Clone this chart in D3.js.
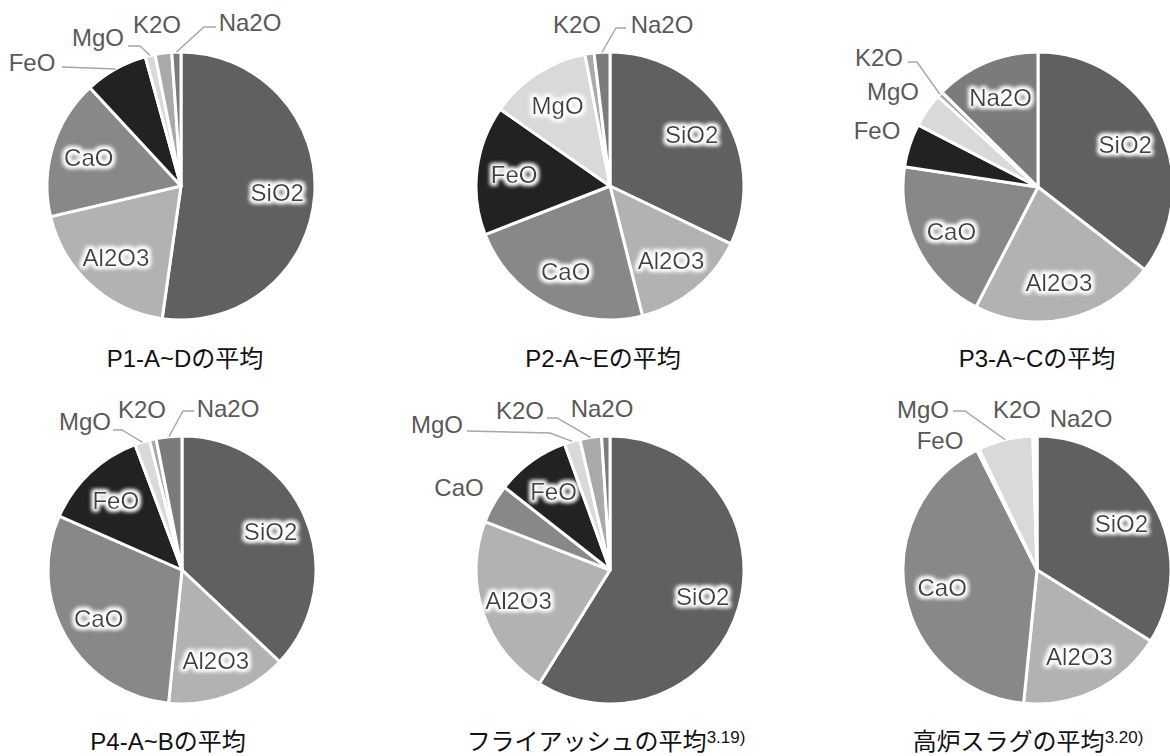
<!DOCTYPE html>
<html lang="ja">
<head>
<meta charset="utf-8">
<script src="https://cdn.jsdelivr.net/npm/d3@7"></script>
<style>
  html, body { margin: 0; padding: 0; background: #fff; }
  svg { display: block; font-family: "Liberation Sans", Arial, "Noto Sans CJK JP", sans-serif; }
</style>
</head>
<body>
<svg id="chart" width="1170" height="756"></svg>
<script>
// Oxide components, listed in drawing order (clockwise from 12 o'clock)
const components = ["SiO2", "Al2O3", "CaO", "FeO", "MgO", "K2O", "Na2O"];

// Average composition (%) of each material
const p1Values = [52.3, 19.1, 16.8, 7.6, 1.2, 2.0, 1.1];
const p2Values = [32.1, 14.0, 23.0, 15.6, 12.3, 1.1, 1.9];
const p3Values = [35.5, 22.1, 19.8, 5.2, 4.1, 0.7, 12.6];
const p4Values = [37.0, 14.6, 30.0, 12.7, 1.8, 0.8, 3.1];
const flyAshValues = [58.8, 22.0, 4.7, 8.9, 1.9, 2.6, 1.0];
const slagValues = [33.9, 17.7, 41.0, 0.3, 6.6, 0.3, 0.2];

const chartTitles = ["P1-A~Dの平均", "P2-A~Eの平均", "P3-A~Cの平均",
                     "P4-A~Bの平均", "フライアッシュの平均", "高炉スラグの平均"];
const titleRefs = ["", "", "", "", "3.19)", "3.20)"];

const seriesList = [p1Values, p2Values, p3Values, p4Values, flyAshValues, slagValues];

// Grey fills per component
const color = d3.scaleOrdinal()
  .domain(components)
  .range(["#606060", "#b2b2b2", "#888888", "#222222", "#d9d9d9", "#a9a9a9", "#7b7b7b"]);

// Placement of each pie, its caption, and labels that sit outside the pie
// (label centre, optional leader start and elbow; leaders end on the slice rim)
const layout = [
  { cx: 181, cy: 186, r: 134, titleX: 185, titleY: 367,
    outside: {
      FeO:  { x: 32,  y: 62, leader: [[62, 67]] },
      MgO:  { x: 98,  y: 37, leader: [[128, 46], [140, 46]] },
      K2O:  { x: 157, y: 24 },
      Na2O: { x: 250, y: 22, leader: [[216, 27], [204, 27]] }
    } },
  { cx: 610, cy: 186, r: 134, titleX: 603, titleY: 367,
    outside: {
      K2O:  { x: 577, y: 24 },
      Na2O: { x: 662, y: 24, leader: [[626, 28], [616, 28]] }
    } },
  { cx: 1038, cy: 187, r: 135, titleX: 1037, titleY: 367,
    outside: {
      K2O: { x: 879, y: 57, leader: [[908, 62], [917, 62]] },
      MgO: { x: 893, y: 91 },
      FeO: { x: 877, y: 130 }
    } },
  { cx: 182, cy: 570, r: 134, titleX: 168, titleY: 750,
    outside: {
      MgO:  { x: 85,  y: 421, leader: [[113, 430], [122, 430]] },
      K2O:  { x: 142, y: 409 },
      Na2O: { x: 228, y: 408, leader: [[194, 411], [183, 411]] }
    } },
  { cx: 610, cy: 570, r: 134, titleX: 606, titleY: 750,
    outside: {
      CaO:  { x: 459, y: 487 },
      MgO:  { x: 437, y: 424, leader: [[467, 431], [550, 433]] },
      K2O:  { x: 520, y: 410, leader: [[547, 418], [557, 418]] },
      Na2O: { x: 602, y: 408 }
    } },
  { cx: 1037, cy: 570, r: 134, titleX: 1028, titleY: 750,
    outside: {
      FeO:  { x: 940,  y: 440 },
      MgO:  { x: 923,  y: 409, leader: [[953, 411], [965, 411]] },
      K2O:  { x: 1017, y: 409 },
      Na2O: { x: 1081, y: 418 }
    } }
];

const svg = d3.select("#chart");
svg.append("rect").attr("width", 1170).attr("height", 756).attr("fill", "#fff");

// Soft white halo behind labels that sit on the slices
const defs = svg.append("defs");
const glow = defs.append("filter").attr("id", "halo")
  .attr("x", "-30%").attr("y", "-60%").attr("width", "160%").attr("height", "220%");
glow.append("feMorphology").attr("in", "SourceAlpha").attr("operator", "dilate")
  .attr("radius", 2).attr("result", "grown");
glow.append("feGaussianBlur").attr("in", "grown").attr("stdDeviation", 2).attr("result", "soft");
glow.append("feFlood").attr("flood-color", "#ffffff").attr("result", "white");
glow.append("feComposite").attr("in", "white").attr("in2", "soft").attr("operator", "in").attr("result", "glowLayer");
const merge = glow.append("feMerge");
merge.append("feMergeNode").attr("in", "glowLayer");
merge.append("feMergeNode").attr("in", "glowLayer");
merge.append("feMergeNode").attr("in", "SourceGraphic");

const pie = d3.pie().sort(null).value(d => d.value);

seriesList.forEach((values, i) => {
  const L = layout[i];
  const data = components.map((name, k) => ({ name, value: values[k] }));
  const arcs = pie(data);
  const arc = d3.arc().innerRadius(0).outerRadius(L.r);
  const labelArc = d3.arc().innerRadius(L.r * 0.72).outerRadius(L.r * 0.72);

  const g = svg.append("g").attr("transform", `translate(${L.cx},${L.cy})`);

  g.selectAll("path.slice")
    .data(arcs)
    .join("path")
    .attr("class", "slice")
    .attr("d", arc)
    .attr("fill", d => color(d.data.name))
    .attr("stroke", "#fff")
    .attr("stroke-width", 3)
    .attr("stroke-linejoin", "round");

  // Labels inside the slices
  const inside = arcs.filter(d => !L.outside[d.data.name]);
  g.selectAll("text.inner")
    .data(inside)
    .join("text")
    .attr("class", "inner")
    .attr("transform", d => `translate(${labelArc.centroid(d)})`)
    .attr("text-anchor", "middle")
    .attr("dy", "0.36em")
    .attr("font-size", 24)
    .attr("fill", "#404040")
    .attr("filter", "url(#halo)")
    .text(d => d.data.name);

  // Labels outside the pie, with leader lines to the slice rim
  arcs.filter(d => L.outside[d.data.name]).forEach(d => {
    const o = L.outside[d.data.name];
    if (o.leader) {
      const mid = (d.startAngle + d.endAngle) / 2;
      const rim = [L.cx + L.r * Math.sin(mid), L.cy - L.r * Math.cos(mid)];
      svg.append("path")
        .attr("d", d3.line()([...o.leader, rim]))
        .attr("fill", "none")
        .attr("stroke", "#a6a6a6")
        .attr("stroke-width", 1.4);
    }
    svg.append("text")
      .attr("x", o.x).attr("y", o.y)
      .attr("text-anchor", "middle")
      .attr("dy", "0.36em")
      .attr("font-size", 24)
      .attr("fill", "#595959")
      .text(d.data.name);
  });

  // Caption under each pie
  const t = svg.append("text")
    .attr("x", L.titleX).attr("y", L.titleY)
    .attr("text-anchor", "middle")
    .attr("font-size", 24)
    .attr("fill", "#111");
  t.append("tspan").text(chartTitles[i]);
  if (titleRefs[i]) {
    t.append("tspan").attr("font-size", 17).attr("dy", -7).text(titleRefs[i]);
  }
});
</script>
</body>
</html>
